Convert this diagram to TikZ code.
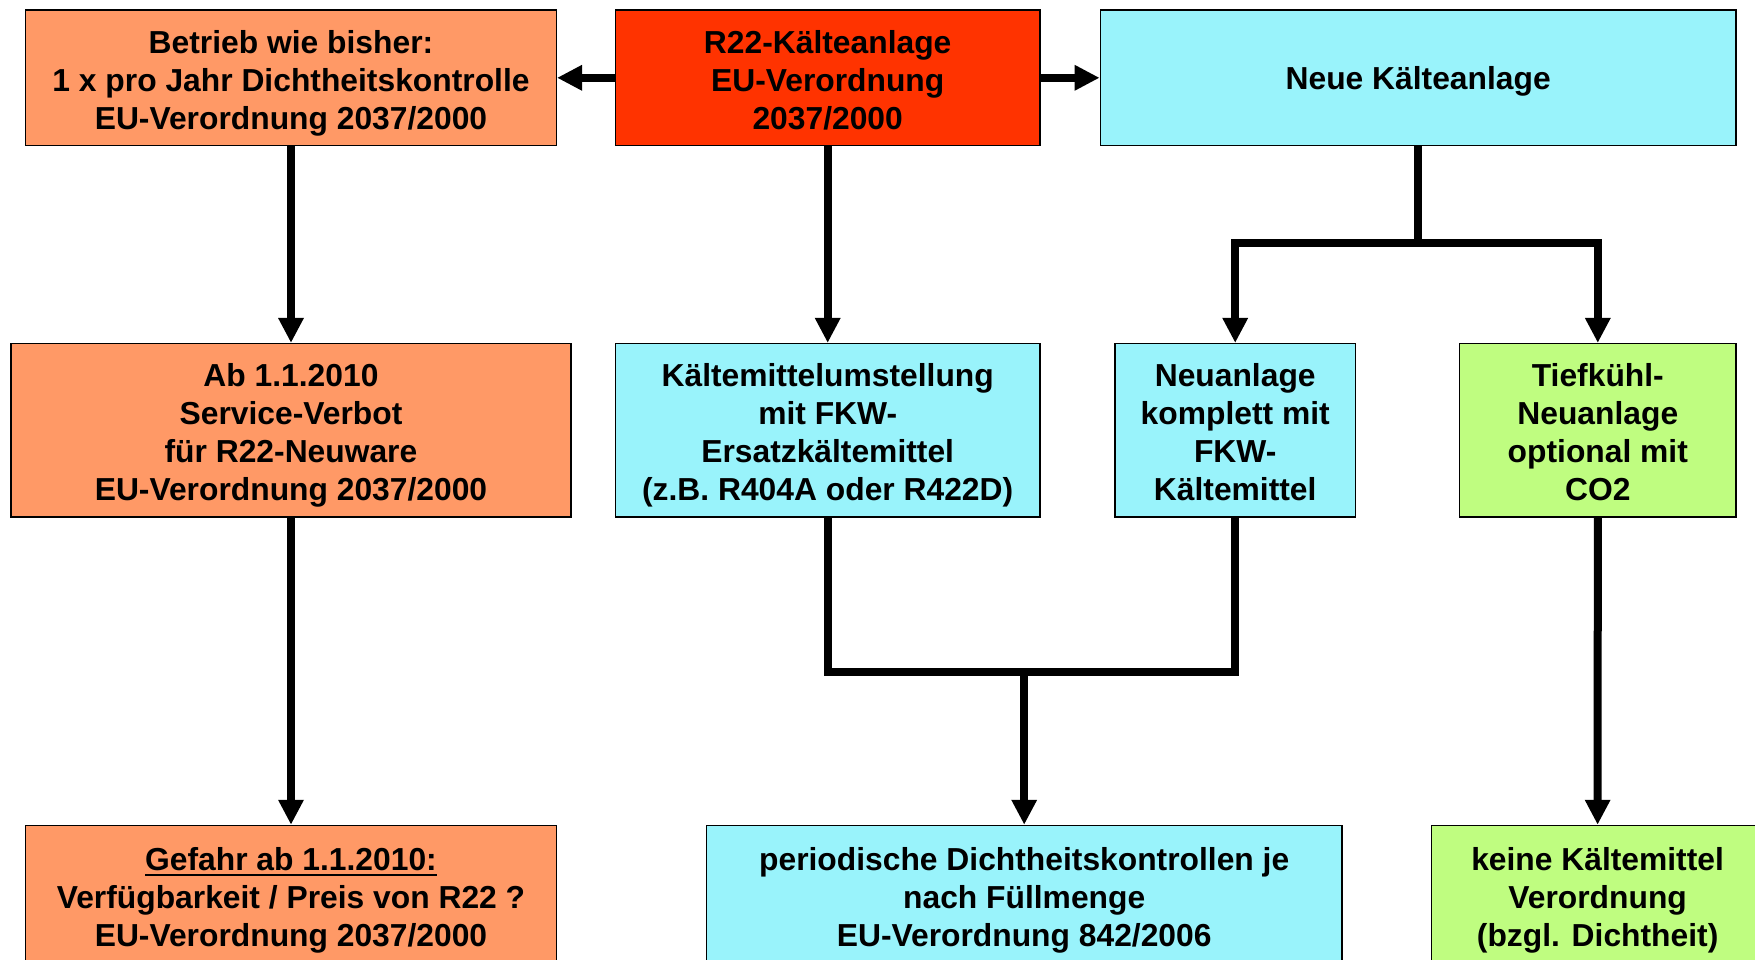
\documentclass[tikz,border=0pt]{standalone}
\usepackage{fontspec}
\setmainfont{Liberation Sans}
\usetikzlibrary{arrows.meta}
\definecolor{orangebox}{HTML}{FF9966}
\definecolor{redbox}{HTML}{FF3300}
\definecolor{cyanbox}{HTML}{99F3FB}
\definecolor{greenbox}{HTML}{BFFD80}
\newcommand{\myul}[1]{\setbox0\hbox{#1}\leavevmode\rlap{\rule[-6pt]{\wd0}{2.5pt}}\box0}
\newcommand{\fs}{\rule{0pt}{33.5pt}}
\newcommand{\ls}{\rule[-6.7pt]{0pt}{6.7pt}}
\begin{document}
\begin{tikzpicture}[x=1pt,y=-1pt,
  box/.style={draw=black, line width=1.5pt, align=center, inner sep=0pt,
    font=\fontsize{31.8}{38}\selectfont\bfseries},
  toprow/.style={box, minimum height=135.4pt},
  midrow/.style={box, minimum height=173.5pt},
  botrow/.style={box, minimum height=139pt},
  wire/.style={line width=8pt, line join=miter},
  conn/.style={wire, -{Triangle[width=24pt,length=25pt]}}]
\useasboundingbox (0,0) rectangle (1755,960);
% top row
\node[toprow, fill=orangebox, minimum width=530.6pt] (A) at (291,77.8)
  {\fs Betrieb wie bisher:\\1 x pro Jahr Dichtheitskontrolle\\EU-Verordnung 2037/2000\ls};
\node[toprow, fill=redbox, minimum width=424.2pt] (B) at (827.7,77.8)
  {\fs R22-Kälteanlage\\EU-Verordnung\\2037/2000\ls};
\node[toprow, fill=cyanbox, minimum width=635.7pt] (C) at (1418.2,77.8)
  {\rule[-8pt]{0pt}{40pt}Neue Kälteanlage};
% middle row
\node[midrow, fill=orangebox, minimum width=559.6pt] (D) at (291,430.4)
  {\fs Ab 1.1.2010\\Service-Verbot\\für R22-Neuware\\EU-Verordnung 2037/2000\ls};
\node[midrow, fill=cyanbox, minimum width=424.2pt] (E) at (827.7,430.4)
  {\fs Kältemittelumstellung\\mit FKW-\\Ersatzkältemittel\\(z.B. R404A oder R422D)\ls};
\node[midrow, fill=cyanbox, minimum width=240.7pt] (F) at (1235.2,430.4)
  {\fs Neuanlage\\komplett mit\\FKW-\\Kältemittel\ls};
\node[midrow, fill=greenbox, minimum width=276.4pt] (G) at (1597.8,430.4)
  {\fs Tiefkühl-\\Neuanlage\\optional mit\\CO2\ls};
% bottom row
\node[botrow, fill=orangebox, minimum width=530.6pt] (H) at (291,895)
  {\fs\myul{Gefahr ab 1.1.2010:}\\Verfügbarkeit / Preis von R22 ?\\EU-Verordnung 2037/2000\ls};
\node[botrow, fill=cyanbox, minimum width=635.7pt] (I) at (1024.2,895)
  {\fs periodische Dichtheitskontrollen je\\nach Füllmenge\\EU-Verordnung 842/2006\ls};
\node[botrow, fill=greenbox, minimum width=332pt] (J) at (1597.6,895)
  {\fs keine Kältemittel\\Verordnung\\(bzgl. Dichtheit)\ls};
% junctions
\coordinate (cj) at (1418.2,242.9);
\coordinate (mj) at (1024.2,671.6);
% connectors
\draw[conn] (B.west) -- (A.east);
\draw[conn] (B.east) -- (C.west);
\draw[conn] (A.south) -- (D.north);
\draw[conn] (D.south) -- (H.north);
\draw[conn] (B.south) -- (E.north);
\draw[conn] (C.south) -- (cj) -| (F.north);
\draw[conn] (C.south) -- (cj) -| (G.north);
\draw[wire] (E.south) |- (mj) -| (F.south);
\draw[conn] (mj) -- (I.north);
\draw[conn] (G.south) -- (J.north);
\end{tikzpicture}
\end{document}
